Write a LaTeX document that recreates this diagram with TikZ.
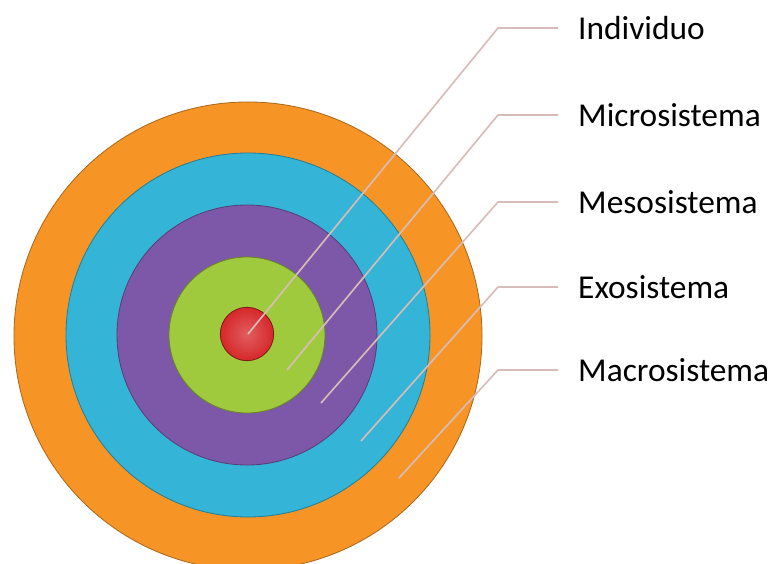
\documentclass[tikz,border=0pt]{standalone}
\usepackage{fontspec}
\setmainfont{Carlito}
\usepackage{tikz}
\usetikzlibrary{positioning}

\definecolor{orng}{RGB}{246,148,38}
\definecolor{cyn}{RGB}{52,180,214}
\definecolor{prpl}{RGB}{126,88,168}
\definecolor{grn}{RGB}{160,202,62}
\definecolor{rd}{RGB}{214,40,42}
\definecolor{lnk}{RGB}{216,188,184}

\begin{document}
\begin{tikzpicture}[x=0.03cm, y=-0.03cm]
                \tikzset{disc/.style={draw, shape=circle, line width=0.7pt, inner sep=0pt},
                         lbl/.style={anchor=west, inner xsep=0.6cm, font=\fontsize{28.5}{32}\selectfont},
                         lead/.style={draw=lnk, line width=1.4pt}}
                \useasboundingbox (0,0) rectangle (776,564);
                \node[disc, fill=orng, draw=orng!70!black, minimum size=14.04cm] (macro) at (248,336) {};
                \node[disc, fill=cyn, draw=cyn!70!black, minimum size=10.92cm] (exo) at (248,335) {};
                \node[disc, fill=prpl, draw=prpl!70!black, minimum size=7.8cm] (meso) at (247,335) {};
                \node[disc, fill=grn, draw=grn!65!black, minimum size=4.68cm] (micro) at (247,335) {};
                \node[disc, inner color=rd!75!white, outer color=rd, draw=rd!60!black, minimum size=1.6cm] (ind) at (247,334) {};
                % ends of the leader lines
                \coordinate (pind) at (248,334);
                \coordinate (pmicro) at (287,370);
                \coordinate (pmeso) at (321,403);
                \coordinate (pexo) at (361,441);
                \coordinate (pmacro) at (399,478);
                \coordinate (kind) at (498,28);
                \coordinate (kmicro) at (498,115);
                \coordinate (kmeso) at (498,202);
                \coordinate (kexo) at (498,287);
                \coordinate (kmacro) at (498,370);
                % labels
                \node[lbl] (tind) at (558,28) {Individuo};
                \node[lbl] (tmicro) at (558,115) {Microsistema};
                \node[lbl] (tmeso) at (558,202) {Mesosistema};
                \node[lbl] (texo) at (558,287) {Exosistema};
                \node[lbl] (tmacro) at (558,370) {Macrosistema};
                \path[lead]
                    (pind) -- (kind) -- (tind.west)
                    (pmicro) -- (kmicro) -- (tmicro.west)
                    (pmeso) -- (kmeso) -- (tmeso.west)
                    (pexo) -- (kexo) -- (texo.west)
                    (pmacro) -- (kmacro) -- (tmacro.west);
            \end{tikzpicture}
\end{document}
